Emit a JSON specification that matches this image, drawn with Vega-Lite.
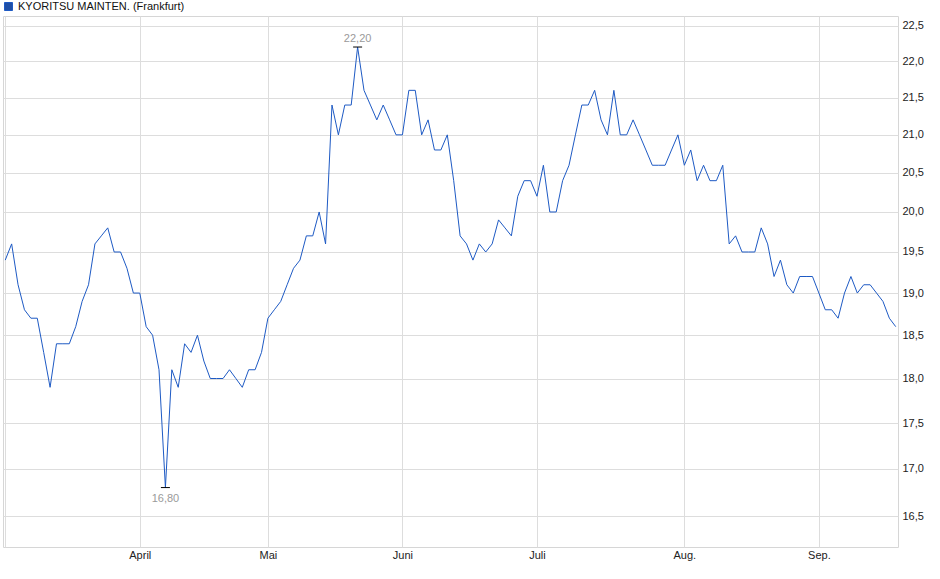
{
  "$schema": "https://vega.github.io/schema/vega-lite/v6.json",
  "width": 895,
  "height": 531,
  "autosize": "none",
  "padding": {"left": 3, "top": 16, "right": 42, "bottom": 32},
  "config": {
    "locale": {"number": {"decimal": ",", "thousands": ".", "grouping": [3], "currency": ["", " €"]}},
    "font": "Liberation Sans",
    "view": {"stroke": "#d6d6d6"},
    "axis": {
      "gridColor": "#dddddd",
      "domain": false,
      "ticks": false,
      "labelFont": "Liberation Sans",
      "labelFontSize": 11,
      "labelColor": "#222222",
      "title": null
    }
  },
  "data": {
    "values": [
      {"date": "2025-03-03", "close": 19.4}, {"date": "2025-03-04", "close": 19.6}, {"date": "2025-03-05", "close": 19.1},
      {"date": "2025-03-06", "close": 18.8}, {"date": "2025-03-07", "close": 18.7}, {"date": "2025-03-10", "close": 18.7},
      {"date": "2025-03-11", "close": 18.3}, {"date": "2025-03-12", "close": 17.9}, {"date": "2025-03-13", "close": 18.4},
      {"date": "2025-03-14", "close": 18.4}, {"date": "2025-03-17", "close": 18.4}, {"date": "2025-03-18", "close": 18.6},
      {"date": "2025-03-19", "close": 18.9}, {"date": "2025-03-20", "close": 19.1}, {"date": "2025-03-21", "close": 19.6},
      {"date": "2025-03-24", "close": 19.7}, {"date": "2025-03-25", "close": 19.8}, {"date": "2025-03-26", "close": 19.5},
      {"date": "2025-03-27", "close": 19.5}, {"date": "2025-03-28", "close": 19.3}, {"date": "2025-03-31", "close": 19.0},
      {"date": "2025-04-01", "close": 19.0}, {"date": "2025-04-02", "close": 18.6}, {"date": "2025-04-03", "close": 18.5},
      {"date": "2025-04-04", "close": 18.1}, {"date": "2025-04-07", "close": 16.8}, {"date": "2025-04-08", "close": 18.1},
      {"date": "2025-04-09", "close": 17.9}, {"date": "2025-04-10", "close": 18.4}, {"date": "2025-04-11", "close": 18.3},
      {"date": "2025-04-14", "close": 18.5}, {"date": "2025-04-15", "close": 18.2}, {"date": "2025-04-16", "close": 18.0},
      {"date": "2025-04-17", "close": 18.0}, {"date": "2025-04-22", "close": 18.0}, {"date": "2025-04-23", "close": 18.1},
      {"date": "2025-04-24", "close": 18.0}, {"date": "2025-04-25", "close": 17.9}, {"date": "2025-04-28", "close": 18.1},
      {"date": "2025-04-29", "close": 18.1}, {"date": "2025-04-30", "close": 18.3},
      {"date": "2025-05-02", "close": 18.7}, {"date": "2025-05-05", "close": 18.8}, {"date": "2025-05-06", "close": 18.9},
      {"date": "2025-05-07", "close": 19.1}, {"date": "2025-05-08", "close": 19.3}, {"date": "2025-05-09", "close": 19.4},
      {"date": "2025-05-12", "close": 19.7}, {"date": "2025-05-13", "close": 19.7}, {"date": "2025-05-14", "close": 20.0},
      {"date": "2025-05-15", "close": 19.6}, {"date": "2025-05-16", "close": 21.4}, {"date": "2025-05-19", "close": 21.0},
      {"date": "2025-05-20", "close": 21.4}, {"date": "2025-05-21", "close": 21.4}, {"date": "2025-05-22", "close": 22.2},
      {"date": "2025-05-23", "close": 21.6}, {"date": "2025-05-26", "close": 21.4}, {"date": "2025-05-27", "close": 21.2},
      {"date": "2025-05-28", "close": 21.4}, {"date": "2025-05-29", "close": 21.2}, {"date": "2025-05-30", "close": 21.0},
      {"date": "2025-06-02", "close": 21.0}, {"date": "2025-06-03", "close": 21.6}, {"date": "2025-06-04", "close": 21.6},
      {"date": "2025-06-05", "close": 21.0}, {"date": "2025-06-06", "close": 21.2}, {"date": "2025-06-09", "close": 20.8},
      {"date": "2025-06-10", "close": 20.8}, {"date": "2025-06-11", "close": 21.0}, {"date": "2025-06-12", "close": 20.4},
      {"date": "2025-06-13", "close": 19.7}, {"date": "2025-06-16", "close": 19.6}, {"date": "2025-06-17", "close": 19.4},
      {"date": "2025-06-18", "close": 19.6}, {"date": "2025-06-19", "close": 19.5}, {"date": "2025-06-20", "close": 19.6},
      {"date": "2025-06-23", "close": 19.9}, {"date": "2025-06-24", "close": 19.8}, {"date": "2025-06-25", "close": 19.7},
      {"date": "2025-06-26", "close": 20.2}, {"date": "2025-06-27", "close": 20.4}, {"date": "2025-06-30", "close": 20.4},
      {"date": "2025-07-01", "close": 20.2}, {"date": "2025-07-02", "close": 20.6}, {"date": "2025-07-03", "close": 20.0},
      {"date": "2025-07-04", "close": 20.0}, {"date": "2025-07-07", "close": 20.4}, {"date": "2025-07-08", "close": 20.6},
      {"date": "2025-07-09", "close": 21.0}, {"date": "2025-07-10", "close": 21.4}, {"date": "2025-07-11", "close": 21.4},
      {"date": "2025-07-14", "close": 21.6}, {"date": "2025-07-15", "close": 21.2}, {"date": "2025-07-16", "close": 21.0},
      {"date": "2025-07-17", "close": 21.6}, {"date": "2025-07-18", "close": 21.0}, {"date": "2025-07-21", "close": 21.0},
      {"date": "2025-07-22", "close": 21.2}, {"date": "2025-07-23", "close": 21.0}, {"date": "2025-07-24", "close": 20.8},
      {"date": "2025-07-25", "close": 20.6}, {"date": "2025-07-28", "close": 20.6}, {"date": "2025-07-29", "close": 20.6},
      {"date": "2025-07-30", "close": 20.8}, {"date": "2025-07-31", "close": 21.0},
      {"date": "2025-08-01", "close": 20.6}, {"date": "2025-08-04", "close": 20.8}, {"date": "2025-08-05", "close": 20.4},
      {"date": "2025-08-06", "close": 20.6}, {"date": "2025-08-07", "close": 20.4}, {"date": "2025-08-08", "close": 20.4},
      {"date": "2025-08-11", "close": 20.6}, {"date": "2025-08-12", "close": 19.6}, {"date": "2025-08-13", "close": 19.7},
      {"date": "2025-08-14", "close": 19.5}, {"date": "2025-08-15", "close": 19.5}, {"date": "2025-08-18", "close": 19.5},
      {"date": "2025-08-19", "close": 19.8}, {"date": "2025-08-20", "close": 19.6}, {"date": "2025-08-21", "close": 19.2},
      {"date": "2025-08-22", "close": 19.4}, {"date": "2025-08-25", "close": 19.1}, {"date": "2025-08-26", "close": 19.0},
      {"date": "2025-08-27", "close": 19.2}, {"date": "2025-08-28", "close": 19.2}, {"date": "2025-08-29", "close": 19.2},
      {"date": "2025-09-01", "close": 19.0}, {"date": "2025-09-02", "close": 18.8}, {"date": "2025-09-03", "close": 18.8},
      {"date": "2025-09-04", "close": 18.7}, {"date": "2025-09-05", "close": 19.0}, {"date": "2025-09-08", "close": 19.2},
      {"date": "2025-09-09", "close": 19.0}, {"date": "2025-09-10", "close": 19.1}, {"date": "2025-09-11", "close": 19.1},
      {"date": "2025-09-12", "close": 19.0}, {"date": "2025-09-15", "close": 18.9}, {"date": "2025-09-16", "close": 18.7},
      {"date": "2025-09-17", "close": 18.6}
    ]
  },
  "encoding": {
    "x": {
      "field": "date",
      "type": "ordinal",
      "scale": {"type": "point", "padding": 0.35},
      "axis": {
        "values": ["2025-03-03", "2025-04-01", "2025-05-02", "2025-06-02", "2025-07-01", "2025-08-01", "2025-09-01"],
        "labelExpr": "['', '', '', '', 'April', 'Mai', 'Juni', 'Juli', 'Aug.', 'Sep.'][toNumber(slice(datum.value, 5, 7))]",
        "labelAngle": 0,
        "labelPadding": 2,
        "grid": true
      }
    },
    "y": {
      "field": "close",
      "type": "quantitative",
      "scale": {"type": "log", "domain": [16.18, 22.64], "nice": false},
      "axis": {
        "orient": "right",
        "values": [16.5, 17, 17.5, 18, 18.5, 19, 19.5, 20, 20.5, 21, 21.5, 22, 22.5],
        "format": ".1f",
        "labelPadding": 4
      }
    }
  },
  "layer": [
    {
      "mark": {"type": "line", "strokeWidth": 1},
      "encoding": {
        "color": {
          "datum": "KYORITSU MAINTEN. (Frankfurt)",
          "scale": {"range": ["#1e5ac4"]},
          "legend": {
            "title": null,
            "orient": "none",
            "legendX": 0,
            "legendY": -15,
            "padding": 0,
            "symbolType": "square",
            "symbolSize": 64,
            "symbolFillColor": "#1f4fa6",
            "symbolStrokeColor": "#0d2f70",
            "symbolStrokeWidth": 1,
            "labelFont": "Liberation Sans",
            "labelFontSize": 11,
            "labelColor": "#111111",
            "labelOffset": 4,
            "labelLimit": 400
          }
        }
      }
    },
    {
      "transform": [
        {"joinaggregate": [{"op": "max", "field": "close", "as": "hi"}]},
        {"filter": "datum.close == datum.hi"}
      ],
      "layer": [
        {"mark": {"type": "tick", "color": "#000000", "size": 9, "thickness": 1, "opacity": 1}},
        {
          "mark": {"type": "text", "color": "#9a9a9a", "fontSize": 11, "baseline": "alphabetic", "dy": -5},
          "encoding": {"text": {"field": "close", "type": "quantitative", "format": ".2f"}}
        }
      ]
    },
    {
      "transform": [
        {"joinaggregate": [{"op": "min", "field": "close", "as": "lo"}]},
        {"filter": "datum.close == datum.lo"}
      ],
      "layer": [
        {"mark": {"type": "tick", "color": "#000000", "size": 9, "thickness": 1, "opacity": 1}},
        {
          "mark": {"type": "text", "color": "#9a9a9a", "fontSize": 11, "baseline": "top", "dy": 5},
          "encoding": {"text": {"field": "close", "type": "quantitative", "format": ".2f"}}
        }
      ]
    }
  ]
}
